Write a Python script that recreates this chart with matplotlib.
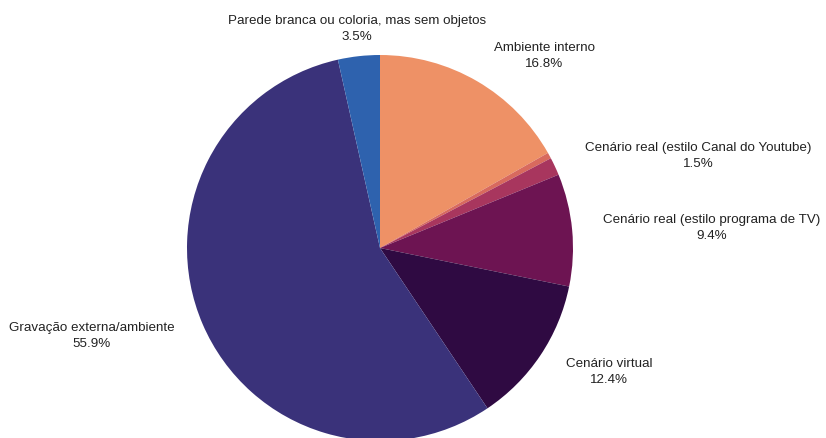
import matplotlib
matplotlib.use("Agg")
import matplotlib.pyplot as plt

plt.rcParams['font.family'] = ['Liberation Sans', 'DejaVu Sans']

# Shares of each recording setting, clockwise from 12 o'clock
categories = [
    "Ambiente interno",
    "Outros",
    "Cenário real (estilo Canal do Youtube)",
    "Cenário real (estilo programa de TV)",
    "Cenário virtual",
    "Gravação externa/ambiente",
    "Parede branca ou coloria, mas sem objetos",
]
values = [16.8, 0.5, 1.5, 9.4, 12.4, 55.9, 3.5]
colors = ["#ee9166", "#d86a5e", "#a8365e", "#6d1452", "#2f0a42", "#3a327a", "#2e62ae"]

# Label anchor positions (pixel space, y measured from top)
label_pos = {
    "Ambiente interno": (544, 56),
    "Cenário real (estilo Canal do Youtube)": (698, 156),
    "Cenário real (estilo programa de TV)": (712, 228),
    "Cenário virtual": (609, 372),
    "Gravação externa/ambiente": (92, 336),
    "Parede branca ou coloria, mas sem objetos": (357, 29),
}

W, H = 826, 438
fig = plt.figure(figsize=(W / 100, H / 100), dpi=100)
ax = fig.add_axes([0, 0, 1, 1])

ax.pie(values, colors=colors, startangle=90, counterclock=False,
       center=(380, H - 248), radius=193,
       wedgeprops=dict(linewidth=0))

ax.set_xlim(0, W)
ax.set_ylim(0, H)
ax.set_aspect("equal")
ax.axis("off")

for cat, val in zip(categories, values):
    if cat not in label_pos:
        continue
    x, y = label_pos[cat]
    ax.text(x, H - y, f"{cat}\n{val:.1f}%", ha="center", va="center",
            fontsize=9.6, color="#222222", linespacing=1.55)

fig.savefig("out.png", dpi=100)
